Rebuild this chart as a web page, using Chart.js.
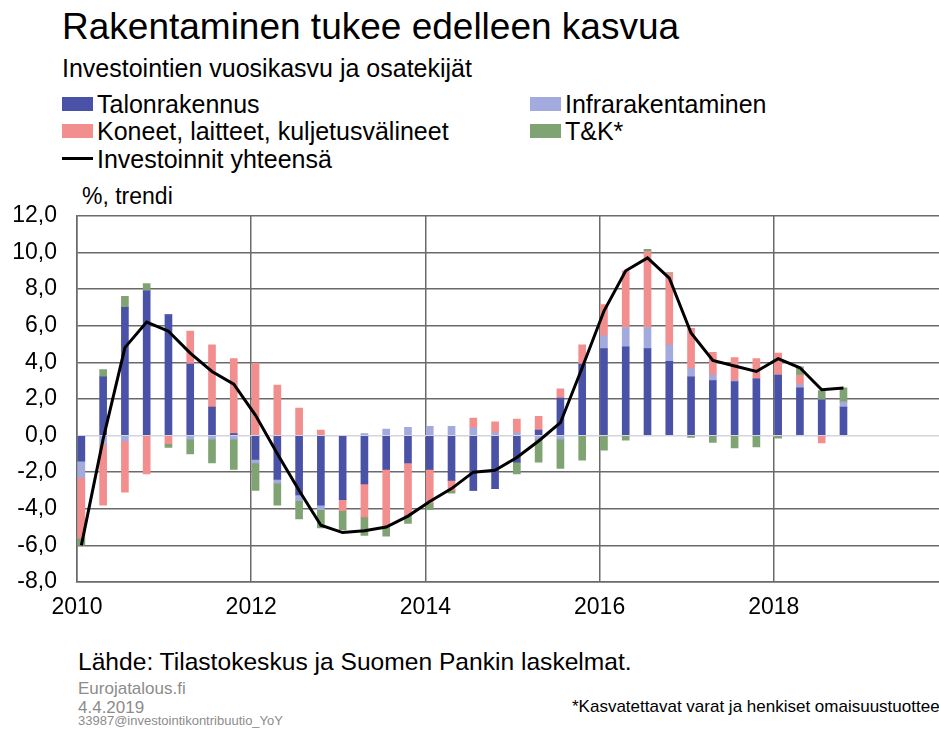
<!DOCTYPE html>
<html>
<head>
<meta charset="utf-8">
<script src="https://cdn.jsdelivr.net/npm/chart.js@4.4.1/dist/chart.umd.min.js"></script>
<style>
  html, body { margin: 0; padding: 0; background: #fff; overflow: hidden; width: 939px; height: 729px; }
  body { position: relative; font-family: 'Liberation Sans', Arial, sans-serif; color: #000; }
  .t { position: absolute; white-space: nowrap; line-height: 1; }
  .sw { position: absolute; width: 31px; height: 14px; }
  #wrap { position: absolute; left: 0; top: 182px; width: 960px; height: 440px; }
</style>
</head>
<body>
<div class="t" style="left:62px;top:8px;font-size:37px">Rakentaminen tukee edelleen kasvua</div>
<div class="t" style="left:62px;top:56px;font-size:25px">Investointien vuosikasvu ja osatekijät</div>

<div class="sw" style="left:62px;top:97px;background:#4a52a8"></div>
<div class="t" style="left:97px;top:92px;font-size:25px">Talonrakennus</div>
<div class="sw" style="left:62px;top:124px;background:#f28e8e"></div>
<div class="t" style="left:97px;top:119px;font-size:25px">Koneet, laitteet, kuljetusvälineet</div>
<div class="sw" style="left:62px;top:157px;height:3px;background:#000"></div>
<div class="t" style="left:97px;top:147px;font-size:25px">Investoinnit yhteensä</div>
<div class="sw" style="left:530px;top:97px;background:#a3aade"></div>
<div class="t" style="left:565px;top:92px;font-size:25px">Infrarakentaminen</div>
<div class="sw" style="left:530px;top:124px;background:#80a373"></div>
<div class="t" style="left:565px;top:119px;font-size:25px">T&amp;K*</div>

<div class="t" style="left:82px;top:185px;font-size:23px">%, trendi</div>

<div id="wrap"><canvas id="chart"></canvas></div>

<div class="t" style="left:78px;top:650px;font-size:24.6px">Lähde: Tilastokeskus ja Suomen Pankin laskelmat.</div>
<div class="t" style="left:78px;top:680px;font-size:17px;color:#8c8c8c">Eurojatalous.fi</div>
<div class="t" style="left:78px;top:699px;font-size:17px;color:#8c8c8c">4.4.2019</div>
<div class="t" style="left:78px;top:714px;font-size:13px;color:#8c8c8c">33987@investointikontribuutio_YoY</div>
<div class="t" style="left:572px;top:698px;font-size:17px">*Kasvatettavat varat ja henkiset omaisuustuotteet</div>

<script>
const quarters = [
  '2010Q1', '2010Q2', '2010Q3', '2010Q4', '2011Q1', '2011Q2', '2011Q3', '2011Q4',
  '2012Q1', '2012Q2', '2012Q3', '2012Q4', '2013Q1', '2013Q2', '2013Q3', '2013Q4',
  '2014Q1', '2014Q2', '2014Q3', '2014Q4', '2015Q1', '2015Q2', '2015Q3', '2015Q4',
  '2016Q1', '2016Q2', '2016Q3', '2016Q4', '2017Q1', '2017Q2', '2017Q3', '2017Q4',
  '2018Q1', '2018Q2', '2018Q3', '2018Q4'
];
const talo = [-1.4, 3.2, 7.0, 7.9, 6.6, 3.9, 1.55, 0.1, -1.3, -2.4, -3.25, -3.8,
  -3.5, -2.65, -1.85, -1.5, -1.85, -2.45, -3.0, -2.9, -1.45, 0.3, 2.05, 3.9,
  4.75, 4.85, 4.75, 4.05, 3.2, 3.0, 2.95, 3.1, 3.3, 2.6, 1.95, 1.55];
const infra = [-0.9, -0.5, -0.3, 0, 0, -0.2, -0.2, -0.2, -0.2, -0.2, -0.3, -0.25,
  0, 0.1, 0.35, 0.45, 0.5, 0.5, 0.4, 0.15, 0.15, -0.2, -0.2, 0,
  0.7, 1.05, 1.15, 0.9, 0.45, 0.3, 0.05, 0, 0, 0.15, 0, 0.28];
const koneet = [-3.3, -3.3, -2.8, -2.1, -0.45, 1.8, 3.4, 4.1, 3.95, 2.75, 1.5, 0.3,
  -0.6, -1.8, -3.1, -2.85, -1.85, -0.55, 0.55, 0.6, 0.75, 0.75, 0.5, 1.05,
  1.7, 3.1, 4.15, 3.9, 2.2, 1.25, 1.25, 1.1, 1.2, 0.55, -0.4, 0];
const tk = [-0.4, 0.4, 0.6, 0.4, -0.2, -0.8, -1.3, -1.65, -1.5, -1.2, -1.0, -1.0,
  -1.05, -1.0, -0.55, -0.45, -0.35, -0.15, 0, 0, -0.65, -1.25, -1.6, -1.35,
  -0.8, -0.25, 0.12, 0.05, -0.1, -0.38, -0.68, -0.62, -0.15, 0.45, 0.5, 0.78];
const total = [-6.0, -0.2, 4.8, 6.2, 5.7, 4.5, 3.5, 2.8, 1.1, -1.0, -3.0, -4.9,
  -5.3, -5.2, -5.0, -4.4, -3.6, -2.9, -2.0, -1.9, -1.2, -0.3, 0.7, 3.7,
  6.8, 9.0, 9.7, 8.6, 5.6, 4.1, 3.8, 3.5, 4.2, 3.7, 2.5, 2.6];
const yearTicks = [2010, 2012, 2014, 2016, 2018];

// quarter -> position on the year axis (bars sit a little after the quarter start)
const qx = quarters.map(q => Number(q.slice(0, 4)) + (Number(q[5]) - 1) * 0.25 + 0.05);
const pts = arr => arr.map((v, i) => ({x: qx[i], y: v}));

const font = {family: "'Liberation Sans', Arial, sans-serif", size: 23};

const bar = (label, data, color) => ({
  type: 'bar', label: label, data: pts(data), backgroundColor: color,
  barThickness: 7, order: 1, borderWidth: 0
});

new Chart(document.getElementById('chart').getContext('2d'), {
  data: {
    datasets: [
      bar('Talonrakennus', talo, '#4a52a8'),
      bar('Infrarakentaminen', infra, '#a3aade'),
      bar('Koneet, laitteet, kuljetusvälineet', koneet, '#f28e8e'),
      bar('T&K*', tk, '#80a373'),
      {
        type: 'line', label: 'Investoinnit yhteensä', data: pts(total),
        borderColor: '#000', borderWidth: 3, pointRadius: 0, tension: 0, order: 0
      }
    ]
  },
  options: {
    responsive: true,
    maintainAspectRatio: false,
    animation: false,
    layout: {padding: {top: 0, right: 0, left: 0, bottom: 0}},
    plugins: {legend: {display: false}, tooltip: {enabled: false}},
    scales: {
      x: {
        type: 'linear', min: 2010, max: 2020, stacked: true, offset: false,
        afterFit: s => { s.height = 40; },
        afterBuildTicks: s => { s.ticks = yearTicks.concat([2020]).map(v => ({value: v})); },
        ticks: {
          font: font, color: '#000', padding: 12, maxRotation: 0, autoSkip: false,
          callback: v => (yearTicks.includes(v) ? String(v) : '')
        },
        grid: {color: '#6a6a6a', lineWidth: 1.5, drawTicks: false, offset: false},
        border: {color: '#6a6a6a', width: 1.5}
      },
      y: {
        min: -8, max: 12, stacked: true,
        afterFit: s => { s.width = 77; },
        ticks: {
          stepSize: 2, font: font, color: '#000', padding: 20,
          callback: v => v.toFixed(1).replace('.', ',')
        },
        grid: {
          color: c => (c.tick && c.tick.value === 0 ? '#d4d4dc' : '#6a6a6a'),
          lineWidth: 1.5, drawTicks: false
        },
        border: {color: '#6a6a6a', width: 1.5}
      }
    }
  }
});
</script>
</body>
</html>
